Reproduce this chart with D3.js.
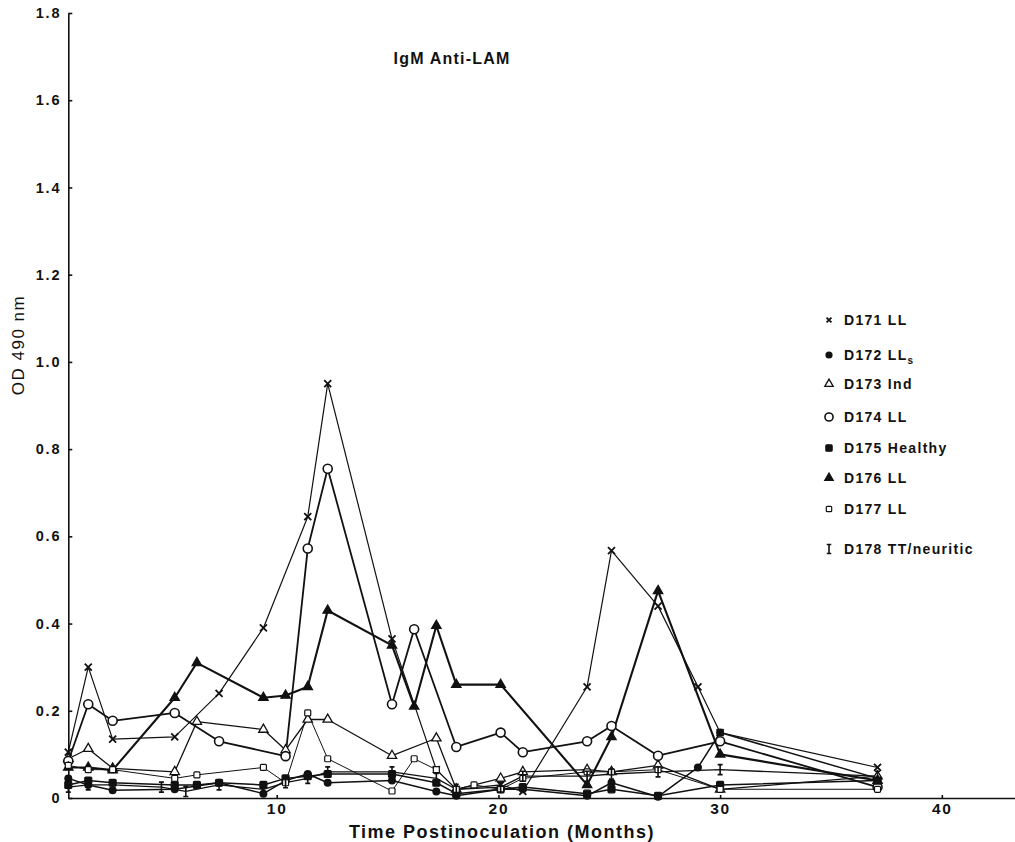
<!DOCTYPE html>
<html>
<head>
<meta charset="utf-8">
<script src="https://cdnjs.cloudflare.com/ajax/libs/d3/7.8.5/d3.min.js"></script>
<style>
  body { margin: 0; background: #fff; }
  svg { display: block; }
  text { font-family: "Liberation Sans", Arial, Helvetica, sans-serif; fill: #111; }
  .axis path, .axis line { stroke: #111; stroke-width: 1.6; }
  .axis text { font-size: 14.5px; font-weight: bold; letter-spacing: 1.8px; }
</style>
</head>
<body>
<div id="chart"></div>
<script>
// --- data (months postinoculation, OD 490 nm)
const d171 = [[0.6,0.105],[1.5,0.30],[2.6,0.135],[5.4,0.14],[7.4,0.24],[9.4,0.39],[11.4,0.645],[12.3,0.95],[15.2,0.365],[17.2,0.065],[18.1,0.02],[20.1,0.03],[21.1,0.015],[24.0,0.255],[25.1,0.567],[27.2,0.44],[29.0,0.255],[30.0,0.15],[37.1,0.07]];
const d172 = [[0.6,0.045],[1.5,0.03],[2.6,0.018],[5.4,0.02],[7.4,0.035],[9.4,0.01],[10.4,0.04],[11.4,0.055],[12.3,0.035],[15.2,0.04],[17.2,0.015],[18.1,0.005],[20.1,0.02],[21.1,0.02],[24.0,0.005],[25.1,0.035],[27.2,0.003],[29.0,0.07],[30.0,0.15],[37.1,0.045]];
const d173 = [[0.6,0.09],[1.5,0.113],[2.6,0.068],[5.4,0.06],[6.4,0.175],[9.4,0.157],[10.4,0.11],[11.4,0.18],[12.3,0.18],[15.2,0.097],[17.2,0.137],[18.1,0.02],[20.1,0.045],[21.1,0.06],[24.0,0.065],[25.1,0.06],[27.2,0.075],[30.0,0.02],[37.1,0.05]];
const d174 = [[0.6,0.085],[1.5,0.215],[2.6,0.177],[5.4,0.195],[7.4,0.13],[10.4,0.096],[11.4,0.572],[12.3,0.755],[15.2,0.215],[16.2,0.387],[18.1,0.117],[20.1,0.15],[21.1,0.105],[24.0,0.13],[25.1,0.165],[27.2,0.097],[30.0,0.13],[37.1,0.025]];
const d175 = [[0.6,0.03],[1.5,0.04],[2.6,0.035],[5.4,0.03],[6.4,0.03],[7.4,0.035],[9.4,0.03],[10.4,0.045],[11.4,0.05],[12.3,0.055],[15.2,0.055],[17.2,0.035],[18.1,0.01],[20.1,0.02],[21.1,0.025],[24.0,0.01],[25.1,0.02],[27.2,0.005],[30.0,0.03],[37.1,0.04]];
const d176 = [[0.6,0.07],[1.5,0.07],[2.6,0.064],[5.4,0.23],[6.4,0.31],[9.4,0.23],[10.4,0.235],[11.4,0.255],[12.3,0.43],[15.2,0.35],[16.2,0.21],[17.2,0.395],[18.1,0.26],[20.1,0.26],[24.0,0.03],[25.1,0.14],[27.2,0.475],[30.0,0.10],[37.1,0.04]];
const d177 = [[0.6,0.075],[1.5,0.065],[2.6,0.065],[5.4,0.045],[6.4,0.053],[9.4,0.07],[10.4,0.035],[11.4,0.195],[12.3,0.09],[15.2,0.016],[16.2,0.09],[17.2,0.065],[18.1,0.02],[18.9,0.03],[20.1,0.02],[21.1,0.045],[24.0,0.06],[25.1,0.06],[27.2,0.065],[30.0,0.02],[37.1,0.02]];
const d178 = [[0.6,0.025],[1.5,0.03],[2.6,0.03],[4.8,0.025],[5.9,0.015],[7.4,0.03],[9.4,0.02],[10.4,0.035],[11.4,0.045],[12.3,0.06],[15.2,0.06],[17.2,0.045],[18.1,0.02],[20.1,0.025],[21.1,0.05],[24.0,0.05],[25.1,0.055],[27.2,0.06],[30.0,0.065],[37.1,0.05]];

const seriesNames = ["D171 LL", "D172 LL", "D173 Ind", "D174 LL", "D175 Healthy", "D176 LL", "D177 LL", "D178 TT/neuritic"];
const seriesData = [d171, d172, d173, d174, d175, d176, d177, d178];
const markerTypes = ["cross", "dot", "tri", "ring", "square", "filltri", "box", "ibar"];
const lineWidths = [1.2, 1.5, 1.3, 1.8, 1.5, 2.1, 1.0, 1.3];

const yTicks = [0, 0.2, 0.4, 0.6, 0.8, 1.0, 1.2, 1.4, 1.6, 1.8];
const xTicks = [10, 20, 30, 40];

const W = 1015, H = 842;
const svg = d3.select("#chart").append("svg").attr("width", W).attr("height", H);

// x origin sits a little past 0 months, where the y axis is drawn
const x = d3.scaleLinear().domain([0.6, 43.3]).range([68.3, 1015]);
const y = d3.scaleLinear().domain([0, 1.8]).range([798, 13]);

// ---- axes
const yAxis = d3.axisLeft(y).tickValues(yTicks).tickSize(-4).tickSizeOuter(0).tickPadding(7)
  .tickFormat(d => d === 0 ? "0" : d3.format(".1f")(d));
svg.append("g").attr("class", "axis").attr("transform", `translate(${x(0.6)},0)`).call(yAxis);

const xAxis = d3.axisBottom(x).tickValues(xTicks).tickSize(-3).tickSizeOuter(0).tickPadding(5);
svg.append("g").attr("class", "axis").attr("transform", `translate(0,${y(0)})`).call(xAxis)
  .selectAll("text").style("font-size", "15.5px");

// ---- marker drawing
function marker(g, type, s) {
  const k = s || 1;
  if (type === "cross") {
    g.append("path").attr("d", `M${-3.5*k},${-3.5*k}L${3.5*k},${3.5*k}M${-3.5*k},${3.5*k}L${3.5*k},${-3.5*k}`)
      .attr("stroke", "#111").attr("stroke-width", 1.8).attr("fill", "none");
  } else if (type === "dot") {
    g.append("circle").attr("r", 4 * k).attr("fill", "#111");
  } else if (type === "ring") {
    g.append("circle").attr("r", 4.5 * k).attr("fill", "#fff").attr("stroke", "#111").attr("stroke-width", 1.6);
  } else if (type === "tri" || type === "filltri") {
    g.append("path").attr("d", d3.symbol(d3.symbolTriangle, 38 * k * k)())
      .attr("fill", type === "tri" ? "#fff" : "#111").attr("stroke", "#111").attr("stroke-width", 1.3);
  } else if (type === "square" || type === "box") {
    const a = (type === "square" ? 7 : 6) * k;
    g.append("rect").attr("x", -a/2).attr("y", -a/2).attr("width", a).attr("height", a).attr("rx", 1)
      .attr("fill", type === "square" ? "#111" : "#fff").attr("stroke", "#111").attr("stroke-width", 1.2);
  } else if (type === "ibar") {
    g.append("path").attr("d", `M0,${-5*k}V${5*k}M${-2.5*k},${-5*k}H${2.5*k}M${-2.5*k},${5*k}H${2.5*k}`)
      .attr("stroke", "#111").attr("stroke-width", 1.6).attr("fill", "none");
  }
}

// ---- lines + markers
const line = d3.line().x(d => x(d[0])).y(d => y(d[1]));
seriesData.forEach((data, i) => {
  svg.append("path").datum(data).attr("d", line)
    .attr("fill", "none").attr("stroke", "#111").attr("stroke-width", lineWidths[i])
    .attr("stroke-linejoin", "round");
});
seriesData.forEach((data, i) => {
  svg.append("g").selectAll("g").data(data).join("g")
    .attr("transform", d => `translate(${x(d[0])},${y(d[1])})`)
    .each(function () { marker(d3.select(this), markerTypes[i]); });
});

// ---- legend
const legendY = [320, 355, 384, 417, 448, 478, 509, 549];
const leg = svg.append("g").attr("transform", "translate(829,0)");
seriesNames.forEach((name, i) => {
  const row = leg.append("g").attr("transform", `translate(0,${legendY[i]})`);
  marker(row, markerTypes[i], markerTypes[i] === "cross" ? 0.7 : 0.9);
  const t = row.append("text").attr("x", 15).attr("y", 5)
    .style("font-size", "14px").style("font-weight", "bold").style("letter-spacing", "1.3px").text(name);
  if (i === 1) t.append("tspan").attr("dy", 4).style("font-size", "10px").text("s");
});

// ---- titles
svg.append("text").attr("x", 452).attr("y", 64).attr("text-anchor", "middle")
  .style("font-size", "16px").style("letter-spacing", "1.2px").style("font-weight", "600").text("IgM Anti-LAM");

svg.append("text").attr("transform", "translate(24,345) rotate(-90)").attr("text-anchor", "middle")
  .style("font-size", "17px").style("letter-spacing", "1.5px").text("OD 490 nm");

svg.append("text").attr("x", 502).attr("y", 838).attr("text-anchor", "middle")
  .style("font-size", "18px").style("font-weight", "bold").style("letter-spacing", "1.5px")
  .text("Time Postinoculation (Months)");
</script>
</body>
</html>
